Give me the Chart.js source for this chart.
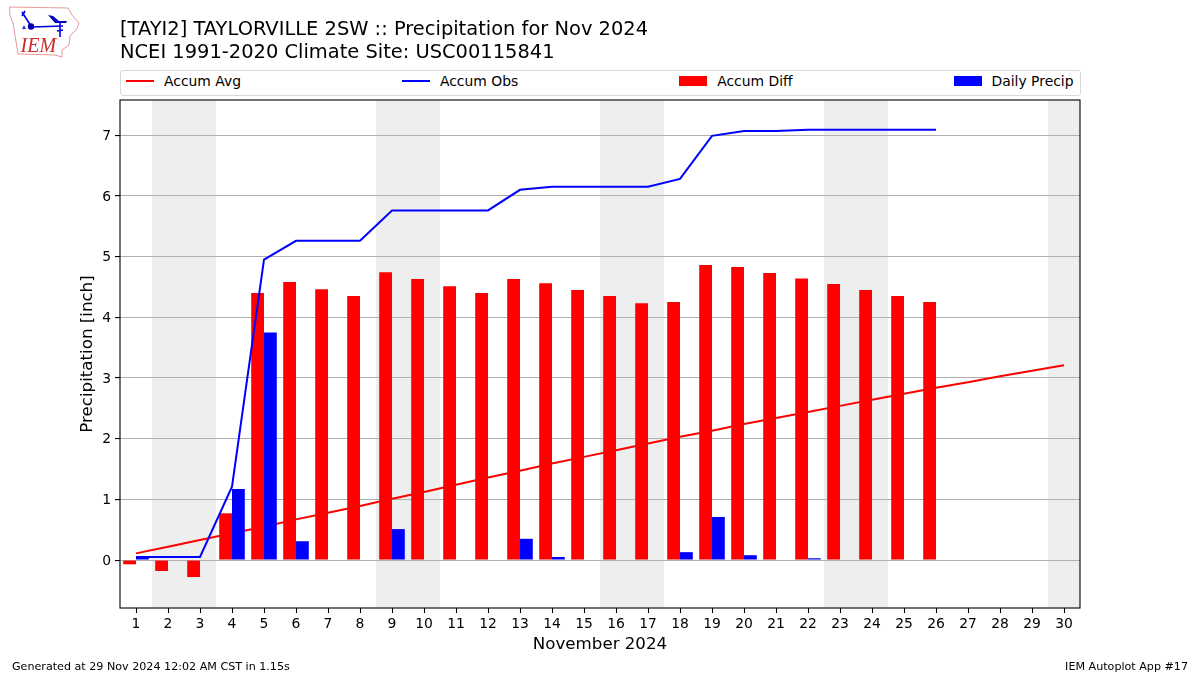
<!DOCTYPE html>
<html>
<head>
<meta charset="utf-8">
<title>Precipitation for Nov 2024</title>
<script src="https://cdn.jsdelivr.net/npm/chart.js@4"></script>
<style>
    html, body { margin: 0; padding: 0; background: #ffffff; }
    body { width: 1200px; height: 675px; position: relative; overflow: hidden; font-family: "DejaVu Sans", sans-serif; color: #000000; }
    canvas { position: absolute; left: 0; top: 0; }
    #logo { position: absolute; left: 0; top: 0; }
    #title { position: absolute; left: 120px; top: 18px; font-size: 19.45px; line-height: 22.5px; white-space: nowrap; }
    #legend { position: absolute; left: 120px; top: 70px; width: 960.5px; height: 25.5px; box-sizing: border-box; border: 1px solid #d9d9d9; border-radius: 3px; background: #ffffff; display: flex; justify-content: space-between; align-items: center; padding: 0 6px 3px 5px; font-size: 13.9px; }
    .item { display: flex; align-items: center; white-space: nowrap; }
    .swatch { width: 28px; margin-right: 10px; }
    .footer { position: absolute; top: 660px; font-size: 11.14px; white-space: nowrap; }
</style>
</head>
<body>
<canvas id="precipChart" width="1200" height="675"></canvas>

<svg id="logo" width="90" height="62" viewBox="0 0 90 62">
    <polygon points="9.5,7 68,8 72,15 79,23 77,29 70,36 69,45 62,50 62,57 55,55 18,54 13,23 10,16" fill="none" stroke="#e59a9a" stroke-width="1"/>
    <g stroke="#0000e0" stroke-width="1.6" fill="none">
        <polyline points="22,12 31,26"/>
        <polyline points="22,16 25,11"/>
        <polyline points="32,27 63,26"/>
        <polyline points="60,22 60,37"/>
        <polyline points="57,31 63,30"/>
    </g>
    <circle cx="31" cy="26.5" r="3.2" fill="#0000b0"/>
    <polygon points="48,15 53,16 59,21 67,21 66,23 55,23" fill="#0000c0"/>
    <polygon points="24,25 26,29 22,29" fill="#3030d0"/>
    <text x="20.5" y="52" font-family="Liberation Serif" font-style="italic" font-size="20" fill="#d02a2a">IEM</text>
</svg>

<div id="title">[TAYI2] TAYLORVILLE 2SW :: Precipitation for Nov 2024<br>NCEI 1991-2020 Climate Site: USC00115841</div>
<div id="legend"></div>
<div class="footer" style="left:12px">Generated at 29 Nov 2024 12:02 AM CST in 1.15s</div>
<div class="footer" style="right:12px">IEM Autoplot App #17</div>

<script>
const days = ['1','2','3','4','5','6','7','8','9','10','11','12','13','14','15','16','17','18','19','20','21','22','23','24','25','26','27','28','29','30'];
const weekendDays = ['2','3','9','10','16','17','23','24','30'];
const yTicks = [0, 1, 2, 3, 4, 5, 6, 7];

const accumAvg = [0.11,0.22,0.33,0.44,0.55,0.67,0.78,0.89,1.01,1.12,1.24,1.36,1.47,1.59,1.70,1.81,1.92,2.03,2.13,2.24,2.34,2.44,2.54,2.64,2.74,2.84,2.93,3.03,3.12,3.21];
const accumObs = [0.05,0.05,0.05,1.21,4.95,5.26,5.26,5.26,5.76,5.76,5.76,5.76,6.10,6.15,6.15,6.15,6.15,6.28,6.99,7.07,7.07,7.09,7.09,7.09,7.09,7.09,null,null,null,null];
const accumDiff = [-0.07,-0.18,-0.28,0.77,4.40,4.58,4.46,4.35,4.74,4.63,4.51,4.40,4.63,4.56,4.45,4.35,4.23,4.25,4.86,4.83,4.73,4.64,4.55,4.45,4.35,4.25,null,null,null,null];
const dailyPrecip = [0.05,0,0,1.17,3.75,0.31,0,0,0.51,0,0,0,0.35,0.05,0,0,0,0.13,0.71,0.08,0,0.03,0,0,0,0,null,null,null,null];

// weekend bands go under the grid, the frame goes on top of everything
const plotDecor = {
    id: 'plotDecor',
    beforeDraw(chart) {
        const { ctx, chartArea, scales } = chart;
        const halfDay = (scales.x.getPixelForValue(1) - scales.x.getPixelForValue(0)) / 2;
        ctx.save();
        ctx.fillStyle = '#eeeeee';
        weekendDays.forEach((day) => {
            const center = scales.x.getPixelForValue(days.indexOf(day));
            ctx.fillRect(center - halfDay, chartArea.top, halfDay * 2, chartArea.bottom - chartArea.top);
        });
        ctx.restore();
    },
    afterDraw(chart) {
        const { ctx, chartArea } = chart;
        ctx.save();
        ctx.strokeStyle = '#000000';
        ctx.lineWidth = 1.1;
        ctx.strokeRect(chartArea.left, chartArea.top, chartArea.right - chartArea.left, chartArea.bottom - chartArea.top);
        ctx.restore();
    }
};

const chart = new Chart(document.getElementById('precipChart').getContext('2d'), {
    data: {
        labels: days,
        datasets: [
            { type: 'line', label: 'Accum Avg', data: accumAvg, borderColor: '#ff0000', backgroundColor: '#ff0000', borderWidth: 2, pointRadius: 0, tension: 0, order: 3 },
            { type: 'line', label: 'Accum Obs', data: accumObs, borderColor: '#0000ff', backgroundColor: '#0000ff', borderWidth: 2, pointRadius: 0, tension: 0, order: 1 },
            { type: 'bar', label: 'Accum Diff', data: accumDiff, backgroundColor: '#ff0000', borderWidth: 0, categoryPercentage: 0.8, barPercentage: 1, order: 2 },
            { type: 'bar', label: 'Daily Precip', data: dailyPrecip, backgroundColor: '#0000ff', borderWidth: 0, categoryPercentage: 0.8, barPercentage: 1, order: 2 }
        ]
    },
    options: {
        responsive: false,
        animation: false,
        devicePixelRatio: 1,
        layout: { padding: { top: 100, right: 120, bottom: 0, left: 0 } },
        plugins: { legend: { display: false }, title: { display: false }, tooltip: { enabled: false } },
        scales: {
            x: {
                type: 'category',
                offset: true,
                afterFit(scale) { scale.height = 67; },
                grid: { drawOnChartArea: false, drawTicks: true, tickLength: 5, tickColor: '#000000', tickWidth: 1.1, offset: false },
                border: { display: false },
                ticks: { color: '#000000', font: { family: 'DejaVu Sans', size: 13.9 }, padding: 3, autoSkip: false, maxRotation: 0 },
                title: { display: true, text: 'November 2024', color: '#000000', font: { family: 'DejaVu Sans', size: 16.67 }, padding: { top: 0, bottom: 20 } }
            },
            y: {
                type: 'linear',
                min: -0.79,
                max: 7.58,
                afterFit(scale) { scale.width = 120; },
                afterBuildTicks(scale) { scale.ticks = yTicks.map((v) => ({ value: v })); },
                grid: { color: '#b0b0b0', lineWidth: 1.1, drawTicks: true, tickLength: 5, tickColor: '#000000', tickWidth: 1.1 },
                border: { display: false },
                ticks: { color: '#000000', font: { family: 'DejaVu Sans', size: 13.9 }, padding: 4, labelOffset: 1 },
                title: { display: true, text: 'Precipitation [inch]', color: '#000000', font: { family: 'DejaVu Sans', size: 16.67 }, padding: { top: 78, bottom: 0 } }
            }
        }
    },
    plugins: [plotDecor]
});

// legend row, spread over the full plot width
const legendBox = document.getElementById('legend');
chart.data.datasets.forEach((ds) => {
    const item = document.createElement('div');
    item.className = 'item';
    const swatch = document.createElement('div');
    swatch.className = 'swatch';
    swatch.style.height = ds.type === 'line' ? '2px' : '10px';
    swatch.style.background = ds.backgroundColor;
    const label = document.createElement('span');
    label.textContent = ds.label;
    item.appendChild(swatch);
    item.appendChild(label);
    legendBox.appendChild(item);
});
</script>
</body>
</html>
